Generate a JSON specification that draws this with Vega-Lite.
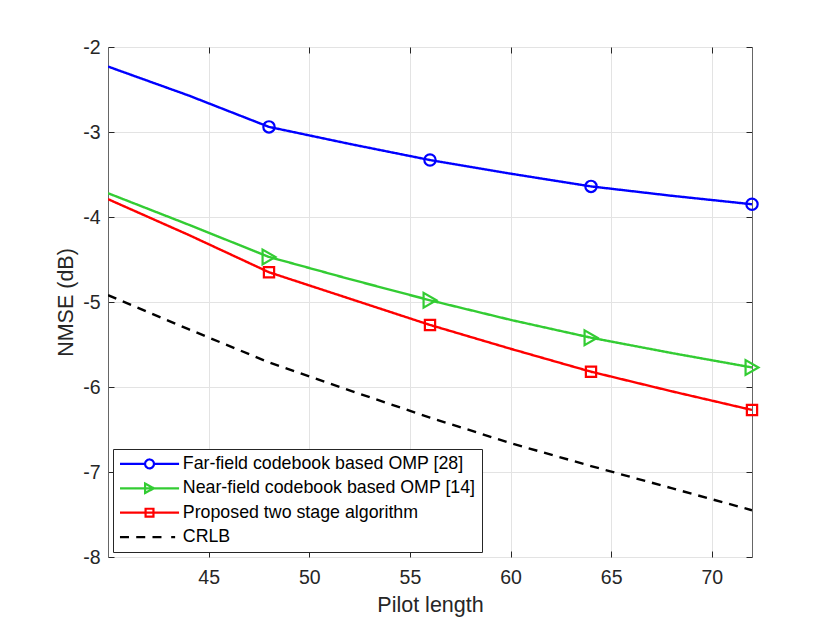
{
  "$schema": "https://vega.github.io/schema/vega-lite/v6.json",
  "width": 644,
  "height": 510,
  "autosize": {"type": "none"},
  "padding": {"left": 108, "top": 47, "right": 78, "bottom": 68},
  "background": "white",
  "config": {
    "font": "Liberation Sans",
    "view": {"stroke": "#666666", "strokeWidth": 1}
  },
  "data": {
    "values": [
      {"series": "Far-field codebook based OMP [28]", "x": 40, "y": -2.23},
      {"series": "Far-field codebook based OMP [28]", "x": 44, "y": -2.57},
      {"series": "Far-field codebook based OMP [28]", "x": 48, "y": -2.94},
      {"series": "Far-field codebook based OMP [28]", "x": 52, "y": -3.14},
      {"series": "Far-field codebook based OMP [28]", "x": 56, "y": -3.33},
      {"series": "Far-field codebook based OMP [28]", "x": 60, "y": -3.49},
      {"series": "Far-field codebook based OMP [28]", "x": 64, "y": -3.64},
      {"series": "Far-field codebook based OMP [28]", "x": 68, "y": -3.75},
      {"series": "Far-field codebook based OMP [28]", "x": 72, "y": -3.85},
      {"series": "Near-field codebook based OMP [14]", "x": 40, "y": -3.72},
      {"series": "Near-field codebook based OMP [14]", "x": 44, "y": -4.09},
      {"series": "Near-field codebook based OMP [14]", "x": 48, "y": -4.47},
      {"series": "Near-field codebook based OMP [14]", "x": 52, "y": -4.73},
      {"series": "Near-field codebook based OMP [14]", "x": 56, "y": -4.98},
      {"series": "Near-field codebook based OMP [14]", "x": 60, "y": -5.21},
      {"series": "Near-field codebook based OMP [14]", "x": 64, "y": -5.42},
      {"series": "Near-field codebook based OMP [14]", "x": 68, "y": -5.6},
      {"series": "Near-field codebook based OMP [14]", "x": 72, "y": -5.77},
      {"series": "Proposed two stage algorithm", "x": 40, "y": -3.79},
      {"series": "Proposed two stage algorithm", "x": 44, "y": -4.21},
      {"series": "Proposed two stage algorithm", "x": 48, "y": -4.65},
      {"series": "Proposed two stage algorithm", "x": 52, "y": -4.96},
      {"series": "Proposed two stage algorithm", "x": 56, "y": -5.27},
      {"series": "Proposed two stage algorithm", "x": 60, "y": -5.55},
      {"series": "Proposed two stage algorithm", "x": 64, "y": -5.82},
      {"series": "Proposed two stage algorithm", "x": 68, "y": -6.05},
      {"series": "Proposed two stage algorithm", "x": 72, "y": -6.27},
      {"series": "CRLB", "x": 40, "y": -4.92},
      {"series": "CRLB", "x": 44, "y": -5.32},
      {"series": "CRLB", "x": 48, "y": -5.71},
      {"series": "CRLB", "x": 52, "y": -6.04},
      {"series": "CRLB", "x": 56, "y": -6.36},
      {"series": "CRLB", "x": 60, "y": -6.66},
      {"series": "CRLB", "x": 64, "y": -6.93},
      {"series": "CRLB", "x": 68, "y": -7.19},
      {"series": "CRLB", "x": 72, "y": -7.45}
    ]
  },
  "resolve": {"axis": {"x": "independent", "y": "independent"}},
  "layer": [
    {
      "mark": {"type": "line", "strokeWidth": 2.4, "clip": true},
      "encoding": {
        "x": {
          "field": "x", "type": "quantitative",
          "scale": {"domain": [40, 72], "nice": false, "zero": false},
          "axis": {
            "values": [45, 50, 55, 60, 65, 70],
            "title": "Pilot length",
            "titleFontSize": 21.5, "titleFontWeight": "normal", "titleColor": "#262626", "titlePadding": 7,
            "labelFontSize": 19.5, "labelColor": "#262626", "labelPadding": 17.5,
            "tickSize": -6, "tickColor": "#262626",
            "domain": false,
            "gridColor": "#e3e3e3", "gridWidth": 1
          }
        },
        "y": {
          "field": "y", "type": "quantitative",
          "scale": {"domain": [-8, -2], "nice": false, "zero": false},
          "axis": {
            "values": [-8, -7, -6, -5, -4, -3, -2],
            "labelExpr": "replace(datum.label, '\u2212', '-')",
            "title": "NMSE (dB)",
            "titleFontSize": 21.5, "titleFontWeight": "normal", "titleColor": "#262626", "titlePadding": 5,
            "labelFontSize": 19.5, "labelColor": "#262626", "labelPadding": 14,
            "tickSize": -6, "tickColor": "#262626",
            "domain": false,
            "gridColor": "#e3e3e3", "gridWidth": 1
          }
        },
        "color": {
          "field": "series", "type": "nominal",
          "scale": {
            "domain": ["Far-field codebook based OMP [28]", "Near-field codebook based OMP [14]", "Proposed two stage algorithm", "CRLB"],
            "range": ["#0000ff", "#33cc33", "#ff0000", "#000000"]
          },
          "legend": {
            "title": null,
            "orient": "none",
            "legendX": 5,
            "legendY": 402,
            "direction": "vertical",
            "fillColor": "white",
            "strokeColor": "#262626",
            "padding": 6,
            "labelFontSize": 17.8,
            "labelColor": "#000000",
            "labelOffset": 49,
            "labelExpr": "datum.label + '\u00a0\u00a0\u00a0'",
            "rowPadding": 5.4,
            "symbolSize": 97,
            "symbolOffset": -3,
            "symbolStrokeWidth": 2.2,
            "labelLimit": 400,
            "encode": {
              "symbols": {
                "update": {
                  "shape": {"signal": "datum.value === 'CRLB' ? 'M-1,0H1.2M2.3,0H4.5M5.6,0H7.8M9.4,0H10.2' : datum.value === 'Proposed two stage algorithm' ? 'M-1,0H11M4.2,-0.8H5.8V0.8H4.2Z' : datum.value === 'Near-field codebook based OMP [14]' ? 'M-1,0H11M4.1,-0.95L5.9,0L4.1,0.95Z' : 'M-1,0H4.1M5.9,0H11M4.1,0A0.9,0.9 0 1,0 5.9,0A0.9,0.9 0 1,0 4.1,0'"},
                  "fill": {"value": "transparent"}
                }
              }
            }
          }
        },
        "strokeDash": {
          "field": "series", "type": "nominal",
          "scale": {
            "domain": ["Far-field codebook based OMP [28]", "Near-field codebook based OMP [14]", "Proposed two stage algorithm", "CRLB"],
            "range": [[1, 0], [1, 0], [1, 0], [9, 7]]
          },
          "legend": null
        }
      }
    },
    {
      "transform": [
        {"filter": "datum.series !== 'CRLB' && datum.x > 40 && datum.x % 8 === 0"}
      ],
      "mark": {"type": "point", "filled": false, "strokeWidth": 2.2, "opacity": 1},
      "encoding": {
        "x": {
          "field": "x", "type": "quantitative",
          "scale": {"domain": [40, 72], "nice": false, "zero": false},
          "axis": {
            "orient": "top", "values": [45, 50, 55, 60, 65, 70],
            "labels": false, "title": null, "grid": false, "domain": false,
            "tickSize": -6, "tickColor": "#262626"
          }
        },
        "y": {
          "field": "y", "type": "quantitative",
          "scale": {"domain": [-8, -2], "nice": false, "zero": false},
          "axis": {
            "orient": "right", "values": [-8, -7, -6, -5, -4, -3, -2],
            "labels": false, "title": null, "grid": false, "domain": false,
            "tickSize": -6, "tickColor": "#262626"
          }
        },
        "color": {"field": "series", "type": "nominal", "legend": null},
        "shape": {
          "field": "series", "type": "nominal",
          "scale": {
            "domain": ["Far-field codebook based OMP [28]", "Near-field codebook based OMP [14]", "Proposed two stage algorithm"],
            "range": ["circle", "triangle-right", "square"]
          },
          "legend": null
        },
        "size": {
          "field": "series", "type": "nominal",
          "scale": {
            "type": "ordinal",
            "domain": ["Far-field codebook based OMP [28]", "Near-field codebook based OMP [14]", "Proposed two stage algorithm"],
            "range": [128, 220, 105]
          },
          "legend": null
        }
      }
    }
  ]
}
